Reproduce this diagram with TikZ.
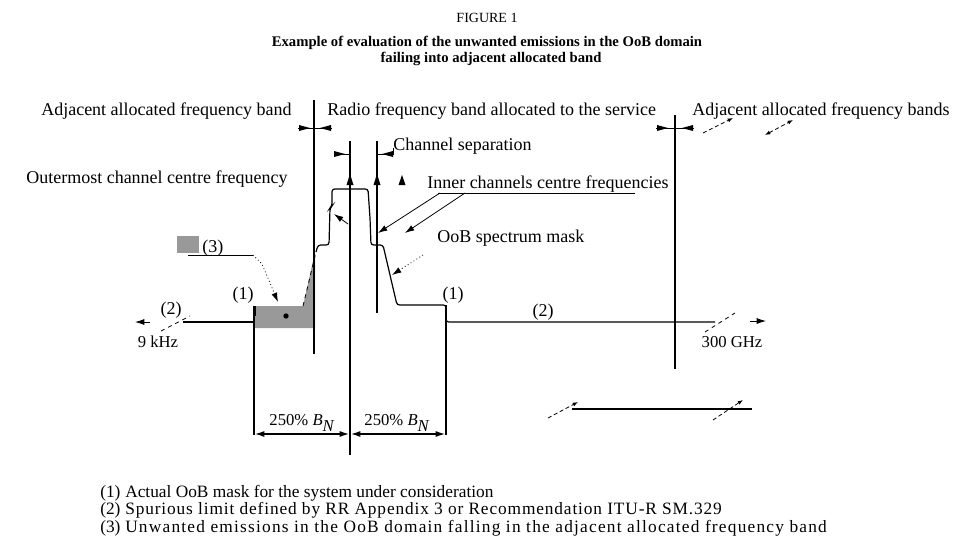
\documentclass[tikz,border=0pt]{standalone}
\usepackage{fontspec}
\setmainfont{Liberation Serif}
\usetikzlibrary{arrows.meta}
\begin{document}
\begin{tikzpicture}[x=0.75pt,y=-0.75pt,
  lbl/.style={inner sep=0pt,font=\fontsize{13.5}{14}\selectfont},
  lgd/.style={inner sep=0pt,font=\fontsize{13}{14}\selectfont},
  sml/.style={inner sep=0pt,font=\fontsize{12.5}{13}\selectfont},
  ttl/.style={inner sep=0pt,font=\fontsize{10.5}{12}\selectfont},
  bttl/.style={inner sep=0pt,font=\fontsize{11}{12}\selectfont\bfseries},
  ln/.style={line width=0.9pt},
  thn/.style={line width=0.6pt},
  tip/.style={-{Latex[length=7pt,width=4.5pt]}},
  dtip/.style={{Latex[length=7pt,width=4.5pt]}-{Latex[length=7pt,width=4.5pt]}},
  stip/.style={-{Latex[length=4pt,width=3pt]}},
  shade/.style={fill=black!40}]
\useasboundingbox (0,0) rectangle (974,547);
% titles
\node[ttl] (fig) at (487,18) {FIGURE 1};
\node[bttl] (t1) at (487,43) {Example of evaluation of the unwanted emissions in the OoB domain};
\node[bttl] (t2) at (491,59) {failing into adjacent allocated band};
% band labels
\node[lbl,anchor=base west] (adjL) at (41,115) {Adjacent allocated frequency band};
\node[lbl,anchor=base west] (radio) at (327,115) {Radio frequency band allocated to the service};
\node[lbl,anchor=base west] (adjR) at (692,115) {Adjacent allocated frequency bands};
\node[lbl,anchor=base west] (chsep) at (393,150) {Channel separation};
\node[lbl,anchor=base west] (outer) at (26,183) {Outermost channel centre frequency};
\node[lbl,anchor=base west] (inner) at (427,188) {Inner channels centre frequencies};
\node[lbl,anchor=base west] (oob) at (437,242) {OoB spectrum mask};
\node[lbl,anchor=base west] (n3) at (202,252) {(3)};
\node[lbl] (n1a) at (243,295) {(1)};
\node[lbl] (n1b) at (453,295) {(1)};
\node[lbl] (n2a) at (171,310) {(2)};
\node[lbl] (n2b) at (543,312) {(2)};
\node[sml] (khz) at (158,342) {9 kHz};
\node[sml] (ghz) at (732,342) {300 GHz};
\node[sml] (bnL) at (302,423) {250\% \textit{B}$_{\textit{N}}$};
\node[sml] (bnR) at (397,423) {250\% \textit{B}$_{\textit{N}}$};
% legend
\node[lgd,anchor=base west] (lg1) at (100,497) {\makebox[18.75pt][l]{(1)}Actual OoB mask for the system under consideration};
\node[lgd,anchor=base west] (lg2) at (100,514.5) {\makebox[18.75pt][l]{(2)}{\addfontfeatures{LetterSpace=5}Spurious limit defined by RR Appendix 3 or Recommendation ITU-R SM.329}};
\node[lgd,anchor=base west] (lg3) at (100,532) {\makebox[18.75pt][l]{(3)}{\addfontfeatures{LetterSpace=7}Unwanted emissions in the OoB domain falling in the adjacent allocated frequency band}};
% shaded area
\fill[shade] (255,306) -- (303,306) -- (315,252) -- (315,328) -- (255,328) -- cycle;
\draw[thn,dashed] (303,306) -- (316,252);
\fill (286,316) circle (2pt);
% band edges
\draw[ln] (314,100) -- (314,354);
\draw[ln] (675,115) -- (675,369);
% channel centre lines
\draw[ln] (350,141) -- (350,455);
\draw[ln] (377,141) -- (377,313);
% mask
\draw[ln,rounded corners=2pt] (316,252) -- (318,245) -- (329,245) -- (330,208) -- (332,206) -- (332,189) -- (368,189) -- (370,218) -- (371,245) -- (383,245) -- (397,305) -- (446,305) -- (446,322) -- (715,322);
\draw[ln] (183,322) -- (254,322);
\draw[ln] (254,306) -- (254,435);
\draw[line width=1.6pt] (255,306) -- (255,316);
\draw[line width=1.6pt] (446,305) -- (446,322);
\draw[ln] (446,322) -- (446,435);
% dimension 250% BN
\draw[ln,dtip] (255,434) -- (349,434);
\draw[ln,dtip] (351,434) -- (445,434);
% band edge markers
\draw[thn] (298,128) -- (332,128);
\fill (299,125) -- (310,128) -- (299,131) -- cycle;
\fill (331,125) -- (320,128) -- (331,131) -- cycle;
\draw[thn] (656,128) -- (694,128);
\fill (657,125) -- (668,128) -- (657,131) -- cycle;
\fill (693,125) -- (682,128) -- (693,131) -- cycle;
% channel separation markers
\draw[thn] (334,154) -- (350,154);
\fill (334,151) -- (345,154) -- (334,157) -- cycle;
\draw[thn] (377,154) -- (393,154) -- (393,148);
\fill (393,151) -- (382,154) -- (393,157) -- cycle;
% channel centre arrows
\fill (346.5,185) -- (350,174) -- (353.5,185) -- cycle;
\fill (373.5,185) -- (377,174) -- (380.5,185) -- cycle;
\fill (398.5,185) -- (402,175) -- (405.5,185) -- cycle;
% outermost channel arrowhead
\draw[thn,tip] (348,224) -- (334,214);
% inner channel leaders
\draw[thn] (438,193) -- (635,193);
\draw[thn,tip] (440,193) -- (378,233);
\draw[thn,tip] (465,193) -- (405,233);
% OoB mask leader
\draw[thn,dotted,tip] (423,255) -- (392,275);
% (3) leader
\fill[shade] (177,236) rectangle (199,253);
\draw[thn] (188,255) -- (253,255);
\draw[thn,dotted,tip] (253,255) -- (262,264) -- (278,302);
% axis ends
\draw[thn,tip] (150,322) -- (135,322);
\draw[thn,tip] (750,321) -- (766,321);
\draw[thn,dashed] (161,331) -- (190,316);
\draw[thn,dashed] (705,332) -- (735,313);
% adjacent-band arrows
\draw[thn,densely dashed,stip] (703,133) -- (733,118);
\draw[thn,densely dashed,{Latex[length=4pt,width=3pt]}-{Latex[length=4pt,width=3pt]}] (765,135) -- (793,120);
% bottom break line
\draw[ln] (572,409) -- (752,409);
\draw[thn,densely dashed,stip] (548,418) -- (578,402);
\draw[thn,densely dashed,stip] (713,420) -- (743,400);
\end{tikzpicture}
\end{document}
